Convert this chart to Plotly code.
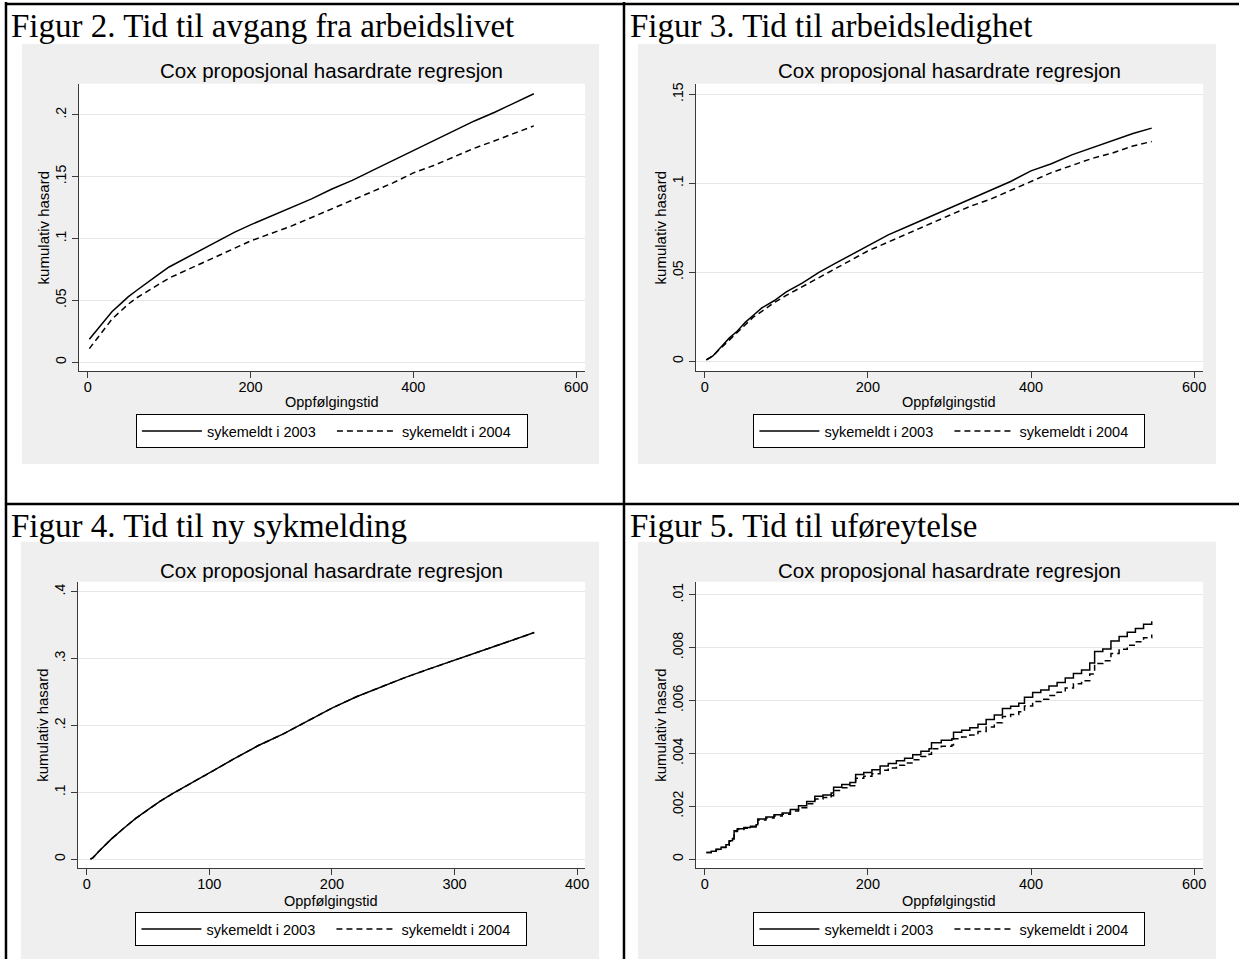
import plotly.graph_objects as go

W, H = 1243, 959

# ---------------- data ----------------
series_names = ["sykemeldt i 2003", "sykemeldt i 2004"]
captions = ["Figur 2. Tid til avgang fra arbeidslivet", "Figur 3. Tid til arbeidsledighet",
            "Figur 4. Tid til ny sykmelding", "Figur 5. Tid til uføreytelse"]
chart_title = "Cox proposjonal hasardrate regresjon"
x_title = "Oppfølgingstid"
y_title = "kumulativ hasard"

# Figur 2
t_fig2 = [2, 10, 20, 30, 40, 50, 60, 70, 85, 100, 120, 140, 160, 180, 200, 225, 250, 275, 300,
          325, 350, 375, 400, 425, 450, 475, 500, 525, 548]
fig2_2003 = [0.0185, 0.025, 0.033, 0.041, 0.047, 0.053, 0.058, 0.063, 0.070, 0.077, 0.084, 0.091,
             0.098, 0.105, 0.111, 0.118, 0.125, 0.132, 0.140, 0.147, 0.155, 0.163, 0.171, 0.179,
             0.187, 0.195, 0.202, 0.210, 0.217]
fig2_2004 = [0.011, 0.018, 0.027, 0.035, 0.041, 0.047, 0.052, 0.056, 0.062, 0.068, 0.074, 0.080,
             0.086, 0.092, 0.098, 0.104, 0.110, 0.117, 0.124, 0.131, 0.138, 0.145, 0.153, 0.159,
             0.166, 0.173, 0.179, 0.185, 0.191]

# Figur 3
t_fig3 = [2, 10, 20, 30, 40, 50, 60, 70, 85, 100, 120, 140, 160, 180, 200, 225, 250, 275, 300,
          325, 350, 375, 400, 425, 450, 475, 500, 525, 548]
fig3_2003 = [0.0008, 0.003, 0.008, 0.013, 0.017, 0.022, 0.026, 0.030, 0.034, 0.039, 0.044, 0.050,
             0.055, 0.060, 0.065, 0.071, 0.076, 0.081, 0.086, 0.091, 0.096, 0.101, 0.107, 0.111,
             0.116, 0.120, 0.124, 0.128, 0.131]
fig3_2004 = [0.0008, 0.003, 0.0075, 0.012, 0.016, 0.021, 0.025, 0.028, 0.033, 0.037, 0.042, 0.047,
             0.052, 0.057, 0.062, 0.067, 0.072, 0.077, 0.082, 0.087, 0.091, 0.096, 0.101, 0.106,
             0.110, 0.114, 0.117, 0.121, 0.1235]

# Figur 4
t_fig4 = [3, 5, 10, 20, 30, 40, 50, 60, 70, 80, 90, 100, 120, 140, 160, 180, 200, 220, 240, 260,
          280, 300, 320, 340, 365]
fig4_2003 = [0.0, 0.002, 0.012, 0.030, 0.046, 0.061, 0.074, 0.087, 0.098, 0.108, 0.119, 0.129,
             0.150, 0.170, 0.187, 0.206, 0.226, 0.243, 0.258, 0.272, 0.285, 0.298, 0.311, 0.323,
             0.339]
fig4_2004 = [0.0, 0.002, 0.012, 0.030, 0.046, 0.061, 0.074, 0.087, 0.098, 0.108, 0.119, 0.129,
             0.150, 0.170, 0.187, 0.206, 0.226, 0.243, 0.258, 0.272, 0.285, 0.298, 0.311, 0.323,
             0.339]

# Figur 5 (step function)
t_fig5 = [2, 8, 14, 20, 26, 30, 34, 36, 40, 48, 56, 63, 65, 75, 85, 95, 105, 115, 125, 135, 145,
          155, 158, 168, 178, 185, 195, 205, 215, 225, 235, 245, 255, 265, 275, 278, 290, 303, 305,
          315, 325, 335, 345, 355, 365, 375, 385, 392, 402, 412, 422, 432, 442, 452, 462, 472, 478,
          488, 498, 508, 518, 528, 538, 548]
fig5_2003 = [0.00025, 0.0003, 0.00038, 0.00045, 0.00055, 0.0007, 0.00078, 0.00108, 0.00115,
             0.0012, 0.00125, 0.0013, 0.00152, 0.0016, 0.00168, 0.00175, 0.00188, 0.00202,
             0.00218, 0.00238, 0.00243, 0.0025, 0.00272, 0.00282, 0.0029, 0.0032, 0.00328,
             0.00338, 0.00352, 0.00362, 0.00372, 0.00382, 0.00395, 0.00408, 0.00418, 0.0044,
             0.0045, 0.00455, 0.0048, 0.00488, 0.00497, 0.0051, 0.00528, 0.00545, 0.0057,
             0.00578, 0.0059, 0.00612, 0.0063, 0.0064, 0.00655, 0.00668, 0.00685, 0.00702,
             0.00715, 0.00742, 0.00785, 0.00795, 0.00825, 0.00842, 0.00858, 0.00872, 0.00888,
             0.0090]
fig5_2004 = [0.00025, 0.0003, 0.00037, 0.00044, 0.00053, 0.00068, 0.00076, 0.00105, 0.00112,
             0.00117, 0.00122, 0.00127, 0.00148, 0.00156, 0.00163, 0.0017, 0.00182, 0.00195,
             0.0021, 0.00228, 0.00233, 0.0024, 0.0026, 0.0027, 0.00278, 0.00306, 0.00314,
             0.00323, 0.00336, 0.00345, 0.00355, 0.00364, 0.00376, 0.00388, 0.00397, 0.00418,
             0.00427, 0.00432, 0.00455, 0.00462, 0.0047, 0.00483, 0.005, 0.00516, 0.0054,
             0.00547, 0.00558, 0.00579, 0.00596, 0.00605, 0.00619, 0.00631, 0.00647, 0.00663,
             0.00675, 0.007, 0.0074, 0.0075, 0.00778, 0.00794, 0.00809, 0.00822, 0.00837,
             0.0085]

# tick labels
xticks_548 = [0, 200, 400, 600]
xticks_365 = [0, 100, 200, 300, 400]
yticks_fig2 = [0, 0.05, 0.1, 0.15, 0.2]
ylabels_fig2 = ["0", ".05", ".1", ".15", ".2"]
yticks_fig3 = [0, 0.05, 0.1, 0.15]
ylabels_fig3 = ["0", ".05", ".1", ".15"]
yticks_fig4 = [0, 0.1, 0.2, 0.3, 0.4]
ylabels_fig4 = ["0", ".1", ".2", ".3", ".4"]
yticks_fig5 = [0, 0.002, 0.004, 0.006, 0.008, 0.01]
ylabels_fig5 = ["0", ".002", ".004", ".006", ".008", ".01"]

# ---------------- layout helpers ----------------
def fx(px):
    return px / W

def fy(py):
    return 1 - py / H

SANS = "Liberation Sans, Arial, sans-serif"
SERIF = "Liberation Serif, Times New Roman, serif"
GREY = "#efefef"
AXC = "#3a3a3a"

panels = [
    dict(t=t_fig2, a=fig2_2003, b=fig2_2004, shape="linear", xt=xticks_548,
         yt=yticks_fig2, yl=ylabels_fig2, xr=[-11, 611], yr=[-0.00726, 0.225],
         px=(79, 587), py=(82, 370), grey=(22, 42, 601, 463), cap=(9, 24),
         ytx=44, leg=413, title_y=69, xt_y=401),
    dict(t=t_fig3, a=fig3_2003, b=fig3_2004, shape="linear", xt=xticks_548,
         yt=yticks_fig3, yl=ylabels_fig3, xr=[-11, 611], yr=[-0.0056, 0.1559],
         px=(698, 1207), py=(82, 370), grey=(640, 42, 1220, 463), cap=(630, 24),
         ytx=663, leg=413, title_y=69, xt_y=401),
    dict(t=t_fig4, a=fig4_2003, b=fig4_2004, shape="linear", xt=xticks_365,
         yt=yticks_fig4, yl=ylabels_fig4, xr=[-7.3, 406.5], yr=[-0.01343, 0.4149],
         px=(78, 587), py=(581, 868), grey=(21, 541, 601, 965), cap=(9, 525),
         ytx=43, leg=912, title_y=570, xt_y=901),
    dict(t=t_fig5, a=fig5_2003, b=fig5_2004, shape="hv", xt=xticks_548,
         yt=yticks_fig5, yl=ylabels_fig5, xr=[-11, 611], yr=[-0.00034, 0.01049],
         px=(698, 1207), py=(581, 868), grey=(640, 541, 1220, 965), cap=(630, 525),
         ytx=663, leg=912, title_y=570, xt_y=901),
]

fig = go.Figure()
shapes = []
annotations = []
layout = {}

for i, p in enumerate(panels):
    s = "" if i == 0 else str(i + 1)
    leg = "legend" + s
    fig.add_trace(go.Scatter(x=p["t"], y=p["a"], mode="lines", name=series_names[0],
                             line=dict(color="black", width=1.5, shape=p["shape"]),
                             xaxis="x" + s, yaxis="y" + s, legend=leg, hoverinfo="skip"))
    fig.add_trace(go.Scatter(x=p["t"], y=p["b"], mode="lines", name=series_names[1],
                             line=dict(color="black", width=1.5, dash="6px,4px", shape=p["shape"]),
                             xaxis="x" + s, yaxis="y" + s, legend=leg, hoverinfo="skip"))

    x0, x1 = p["px"]
    y0, y1 = p["py"]
    layout["xaxis" + s] = dict(
        domain=[fx(x0), fx(x1)], range=p["xr"], anchor="y" + s,
        tickmode="array", tickvals=p["xt"], ticktext=[str(v) for v in p["xt"]],
        ticks="outside", ticklen=6, tickwidth=1, tickcolor=AXC, ticklabelstandoff=-4,
        showline=True, linecolor=AXC, linewidth=1.2, showgrid=False, zeroline=False,
        tickfont=dict(family=SANS, size=14.5, color="black"), fixedrange=True)
    layout["yaxis" + s] = dict(
        domain=[fy(y1), fy(y0)], range=p["yr"], anchor="x" + s,
        tickmode="array", tickvals=p["yt"], ticktext=p["yl"], tickangle=-90,
        ticks="outside", ticklen=6, tickwidth=1, tickcolor=AXC,
        showline=True, linecolor=AXC, linewidth=1.2, showgrid=True,
        gridcolor="#e6e6e6", gridwidth=1, zeroline=False,
        tickfont=dict(family=SANS, size=14, color="black"), fixedrange=True)

    gx0, gy0, gx1, gy1 = p["grey"]
    shapes.append(dict(type="rect", xref="paper", yref="paper", layer="below",
                       x0=fx(gx0), x1=fx(gx1), y0=fy(gy1), y1=fy(gy0),
                       fillcolor=GREY, line=dict(width=0)))
    shapes.append(dict(type="rect", xref="paper", yref="paper", layer="below",
                       x0=fx(x0), x1=fx(x1), y0=fy(y1), y1=fy(y0),
                       fillcolor="white", line=dict(width=0)))

    cx = (x0 + x1) / 2
    annotations.append(dict(text=captions[i], xref="paper", yref="paper", x=fx(p["cap"][0]),
                            y=fy(p["cap"][1]), xanchor="left", yanchor="middle", showarrow=False,
                            font=dict(family=SERIF, size=33, color="black")))
    annotations.append(dict(text=chart_title, xref="paper", yref="paper", x=fx(cx),
                            y=fy(p["title_y"]), xanchor="center", yanchor="middle",
                            showarrow=False, font=dict(family=SANS, size=20.5, color="black")))
    annotations.append(dict(text=x_title, xref="paper", yref="paper", x=fx(cx),
                            y=fy(p["xt_y"]), xanchor="center", yanchor="middle",
                            showarrow=False, font=dict(family=SANS, size=14.5, color="black")))
    annotations.append(dict(text=y_title, xref="paper", yref="paper", x=fx(p["ytx"]),
                            y=fy((y0 + y1) / 2), xanchor="center", yanchor="middle",
                            textangle=-90, showarrow=False,
                            font=dict(family=SANS, size=15, color="black")))

    layout[leg] = dict(orientation="h", x=fx(cx), xanchor="center", y=fy(p["leg"]),
                       yanchor="top", bgcolor="white", bordercolor="black", borderwidth=1,
                       font=dict(family=SANS, size=14.5, color="black"), itemwidth=60,
                       entrywidth=120, entrywidthmode="pixels", traceorder="normal")

# table borders
for (ax0, ay0, ax1, ay1) in [(5, 2, 1243, 2), (6, 0, 6, 959), (626, 0, 626, 959), (5, 503, 1243, 503)]:
    shapes.append(dict(type="line", xref="paper", yref="paper", layer="above",
                       x0=fx(ax0), x1=fx(ax1), y0=fy(ay0), y1=fy(ay1),
                       line=dict(color="black", width=2.5)))

fig.update_layout(width=W, height=H, margin=dict(l=0, r=0, t=0, b=0),
                  paper_bgcolor="white", plot_bgcolor="white",
                  shapes=shapes, annotations=annotations, **layout)

fig.write_html("out.html", config={"displayModeBar": False},
               post_script="document.body.style.margin='0';document.body.style.overflow='hidden';")
